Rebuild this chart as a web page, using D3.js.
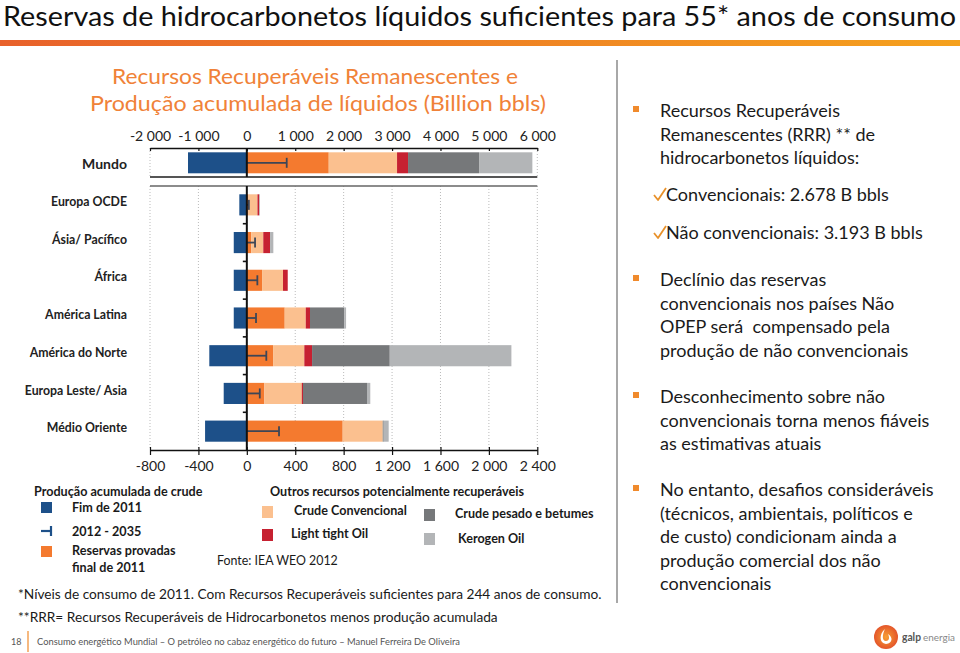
<!DOCTYPE html>
<html><head><meta charset="utf-8">
<script src="https://cdn.jsdelivr.net/npm/d3@7"></script>
<style>
html,body{margin:0;padding:0;background:#fff;}
svg text{font-family:Lato,"Open Sans",sans-serif;}
</style></head>
<body><svg id="c" width="960" height="653"></svg>
<script>
// ---------- DATA ----------
const regions = ["Europa OCDE","Ásia/ Pacífico","África","América Latina","América do Norte","Europa Leste/ Asia","Médio Oriente"];
const prodFim2011 = [-62,-108,-108,-108,-310,-191,-345];
const prod2012_2035 = [17,68,87,76,161,107,266];
const reservasProvadas = [10,37,126,313,217,145,792];
const crudeConvencional = [78,99,173,174,258,309,331];
const lightTightOil = [14,56,39,35,64,10,0];
const crudePesado = [3,0,0,284,642,529,8];
const kerogenOil = [0,27,0,14,1005,27,41];

const world = ["Mundo"];
const worldFim2011 = [-1215];
const world2012_2035 = [824];
const worldReservas = [1692];
const worldCrudeConv = [1411];
const worldLTO = [227];
const worldPesado = [1467];
const worldKerogen = [1101];

const topTicks = [-2000,-1000,0,1000,2000,3000,4000,5000,6000];
const botTicks = [-800,-400,0,400,800,1200,1600,2000,2400];

const colors = {fim:"#1d5089", reservas:"#f47a2f", conv:"#fbc08f", lto:"#c62131", pesado:"#76787a", kerogen:"#b3b5b7", err:"#3e4656"};
const seriesColors = [colors.reservas, colors.conv, colors.lto, colors.pesado, colors.kerogen];

const fmt = d => d3.format(",")(d).replace(/,/g," ").replace("−","-");

// ---------- SVG ----------
const svg = d3.select("#c");
const defs = svg.append("defs");

// Title
svg.append("text").attr("x",3).attr("y",26).attr("font-size",27)
  .attr("textLength",953).attr("lengthAdjust","spacingAndGlyphs").attr("fill","#111")
  .text("Reservas de hidrocarbonetos líquidos suficientes para 55* anos de consumo");
const grad = defs.append("linearGradient").attr("id","tg");
grad.append("stop").attr("offset","0").attr("stop-color","#e8612b");
grad.append("stop").attr("offset","1").attr("stop-color","#f5a11d");
svg.append("rect").attr("x",0).attr("y",40).attr("width",960).attr("height",6).attr("fill","url(#tg)");

// Chart subtitle
svg.append("text").attr("x",315).attr("y",84).attr("text-anchor","middle").attr("font-size",22)
  .attr("fill","#f08238").attr("textLength",406).attr("lengthAdjust","spacingAndGlyphs")
  .text("Recursos Recuperáveis Remanescentes e");
svg.append("text").attr("x",318).attr("y",111).attr("text-anchor","middle").attr("font-size",22)
  .attr("fill","#f08238").attr("textLength",456).attr("lengthAdjust","spacingAndGlyphs")
  .text("Produção acumulada de líquidos (Billion bbls)");

// Scales
const xL = 150, xR = 537.3;
const xTop = d3.scaleLinear().domain([-2000,6000]).range([xL,xR]);
const xBot = d3.scaleLinear().domain([-800,2400]).range([xL,xR]);
const yTop = d3.scaleBand().domain(world).range([148,177.6]).paddingInner(0).paddingOuter(0.205);
const yBot = d3.scaleBand().domain(regions).range([186,450]).paddingInner(0.44).paddingOuter(0.22);

// Top panel gridlines (edges) dotted
[ -2000, 6000 ].forEach(v=>{
  svg.append("line").attr("x1",xTop(v)).attr("x2",xTop(v)).attr("y1",148).attr("y2",177)
    .attr("stroke","#bbb").attr("stroke-dasharray","1,2");
});
// Bottom panel gridlines
svg.append("g").selectAll("line").data(botTicks).join("line")
  .attr("x1",d=>xBot(d)).attr("x2",d=>xBot(d)).attr("y1",186).attr("y2",450)
  .attr("stroke","#bbb").attr("stroke-dasharray","1,2");

// Top axis
const gTop = svg.append("g").attr("transform","translate(0,148)")
  .call(d3.axisTop(xTop).tickValues(topTicks).tickFormat(fmt).tickSizeInner(-3).tickSizeOuter(0));
gTop.select(".domain").attr("stroke","#111").attr("stroke-width",1.6);
gTop.selectAll(".tick line").attr("stroke","#111").attr("stroke-width",1.2);
gTop.selectAll(".tick text").attr("font-size",14).attr("fill","#222").attr("font-family","Lato").attr("y",-7);

// Panel separator lines
svg.append("line").attr("x1",xL).attr("x2",xR).attr("y1",177).attr("y2",177).attr("stroke","#555").attr("stroke-width",1.8);
svg.append("line").attr("x1",xL).attr("x2",xR).attr("y1",186).attr("y2",186).attr("stroke","#666").attr("stroke-width",1.4);

// Bottom axis
const gBot = svg.append("g").attr("transform","translate(0,450)")
  .call(d3.axisBottom(xBot).tickValues(botTicks).tickFormat(fmt).tickSizeInner(5).tickSizeOuter(0));
gBot.select(".domain").attr("stroke","#111").attr("stroke-width",1.6);
gBot.selectAll(".tick line").attr("stroke","#111").attr("stroke-width",1.2).attr("y1",-3);
gBot.selectAll(".tick text").attr("font-size",14).attr("fill","#222").attr("font-family","Lato").attr("y",11);

// Stacked bars helper
function drawBars(x, y, cats, fim, err, stacks){
  const g = svg.append("g");
  g.selectAll("rect.fim").data(cats).join("rect").attr("class","fim")
    .attr("x",(d,i)=>x(fim[i])).attr("width",(d,i)=>x(0)-x(fim[i]))
    .attr("y",d=>y(d)).attr("height",y.bandwidth()).attr("fill",colors.fim);
  cats.forEach((c,i)=>{
    let cum = 0;
    stacks.forEach((s,k)=>{
      const v = s[i];
      if(v>0){
        g.append("rect").attr("x",x(cum)).attr("width",x(cum+v)-x(cum))
          .attr("y",y(c)).attr("height",y.bandwidth()).attr("fill",seriesColors[k]);
      }
      cum += v;
    });
  });
  cats.forEach((c,i)=>{
    const cy = y(c)+y.bandwidth()/2;
    g.append("line").attr("x1",x(0)).attr("x2",x(err[i])).attr("y1",cy).attr("y2",cy)
      .attr("stroke",colors.err).attr("stroke-width",1.8);
    g.append("line").attr("x1",x(err[i])).attr("x2",x(err[i])).attr("y1",cy-5).attr("y2",cy+5)
      .attr("stroke",colors.err).attr("stroke-width",1.8);
  });
}
drawBars(xTop, yTop, world, worldFim2011, world2012_2035, [worldReservas, worldCrudeConv, worldLTO, worldPesado, worldKerogen]);
drawBars(xBot, yBot, regions, prodFim2011, prod2012_2035, [reservasProvadas, crudeConvencional, lightTightOil, crudePesado, kerogenOil]);

// zero line (category axis)
svg.append("line").attr("x1",xTop(0)).attr("x2",xTop(0)).attr("y1",148).attr("y2",177).attr("stroke","#111").attr("stroke-width",2);
svg.append("line").attr("x1",xBot(0)).attr("x2",xBot(0)).attr("y1",186).attr("y2",450).attr("stroke","#111").attr("stroke-width",2);
const bounds = regions.slice(1).map(r=>yBot(r) - (yBot.step()-yBot.bandwidth())/2);
svg.append("g").selectAll("line").data(bounds).join("line")
  .attr("x1",xBot(0)-4).attr("x2",xBot(0)).attr("y1",d=>d).attr("y2",d=>d)
  .attr("stroke","#111").attr("stroke-width",1.6);

// Category labels
svg.append("text").attr("x",127).attr("y",yTop("Mundo")+yTop.bandwidth()/2+3).attr("text-anchor","end")
  .attr("dominant-baseline","middle").attr("font-size",14).attr("font-weight","bold").attr("fill","#222").text("Mundo");
svg.append("g").selectAll("text").data(regions).join("text")
  .attr("x",127).attr("y",d=>yBot(d)+yBot.bandwidth()/2-2).attr("text-anchor","end")
  .attr("dominant-baseline","middle").attr("font-size",12.3).attr("font-weight","bold").attr("fill","#222").text(d=>d);

// Legend
const lg = svg.append("g");
function lt(x,y,t,opts={}){
  return lg.append("text").attr("x",x).attr("y",y).attr("font-size",opts.size||12.6)
    .attr("font-weight",opts.bold===false?"normal":"bold").attr("fill","#1a1a1a").text(t);
}
lt(34,496,"Produção acumulada de crude");
lg.append("rect").attr("x",41).attr("y",502).attr("width",11).attr("height",11).attr("fill",colors.fim);
lt(72,512,"Fim de 2011");
lg.append("line").attr("x1",41).attr("x2",51).attr("y1",531).attr("y2",531).attr("stroke",colors.fim).attr("stroke-width",2.2);
lg.append("line").attr("x1",51).attr("x2",51).attr("y1",526).attr("y2",536).attr("stroke",colors.fim).attr("stroke-width",2.2);
lt(72,536,"2012 - 2035");
lg.append("rect").attr("x",41).attr("y",546).attr("width",11).attr("height",11).attr("fill",colors.reservas);
lt(72,555,"Reservas provadas");
lt(72,572,"final de 2011");
lt(270,496,"Outros recursos potencialmente recuperáveis");
lg.append("rect").attr("x",262).attr("y",506).attr("width",11).attr("height",12).attr("fill",colors.conv);
lt(294,515,"Crude Convencional");
lg.append("rect").attr("x",262).attr("y",529).attr("width",11).attr("height",12).attr("fill",colors.lto);
lt(291,538,"Light tight Oil");
lg.append("rect").attr("x",424).attr("y",509).attr("width",11).attr("height",12).attr("fill",colors.pesado);
lt(455,518,"Crude pesado e betumes");
lg.append("rect").attr("x",424).attr("y",533).attr("width",11).attr("height",12).attr("fill",colors.kerogen);
lt(458,543,"Kerogen Oil");
lt(217,565,"Fonte: IEA WEO 2012",{bold:false,size:12.4});

// footnotes
svg.append("text").attr("x",18).attr("y",599).attr("font-size",13.7).attr("fill","#1a1a1a")
  .text("*Níveis de consumo de 2011. Com Recursos Recuperáveis  suficientes para 244 anos de consumo.");
svg.append("text").attr("x",18).attr("y",622).attr("font-size",13.7).attr("fill","#1a1a1a")
  .text("**RRR= Recursos Recuperáveis de Hidrocarbonetos menos produção acumulada");

// Separator
svg.append("line").attr("x1",617).attr("x2",617).attr("y1",60).attr("y2",603).attr("stroke","#a8a8a8").attr("stroke-width",2);

// Right text
const bullets = [
  {y:117, lines:["Recursos Recuperáveis","Remanescentes (RRR) ** de","hidrocarbonetos líquidos:"]},
  {y:286, lines:["Declínio das reservas","convencionais nos países Não","OPEP será  compensado pela","produção de não convencionais"]},
  {y:403, lines:["Desconhecimento sobre não","convencionais torna menos fiáveis","as estimativas atuais"]},
  {y:496, lines:["No entanto, desafios consideráveis","(técnicos, ambientais, políticos e","de custo) condicionam ainda a","produção comercial dos não","convencionais"]}
];
const rt = svg.append("g");
bullets.forEach(b=>{
  rt.append("rect").attr("x",633).attr("y",b.y-11).attr("width",6).attr("height",6).attr("fill","#f08a2c");
  b.lines.forEach((l,i)=>{
    rt.append("text").attr("x",660).attr("y",b.y+i*23.6).attr("font-size",18).attr("fill","#1a1a1a").style("white-space","pre").text(l);
  });
});
const checks = [{y:201,t:"Convencionais: 2.678 B bbls"},{y:239,t:"Não convencionais: 3.193 B bbls"}];
checks.forEach(c=>{
  rt.append("path").attr("d",`M654,${c.y-6} L658,${c.y-1} L666,${c.y-13}`).attr("fill","none")
    .attr("stroke","#e8912a").attr("stroke-width",1.8).attr("stroke-linejoin","round");
  rt.append("text").attr("x",666).attr("y",c.y).attr("font-size",18).attr("fill","#1a1a1a").text(c.t);
});

// Footer
svg.append("text").attr("x",11).attr("y",645).attr("font-size",9).attr("fill","#555").text("18");
svg.append("line").attr("x1",28).attr("x2",28).attr("y1",631).attr("y2",652).attr("stroke","#f08a2c").attr("stroke-width",1.2);
svg.append("text").attr("x",37).attr("y",645).attr("font-size",8.6).attr("fill","#555")
  .attr("textLength",423).attr("lengthAdjust","spacingAndGlyphs")
  .text("Consumo energético Mundial – O petróleo no cabaz energético do futuro – Manuel Ferreira De Oliveira");
// Galp logo
const lgG = svg.append("g").attr("transform","translate(886,637)");
const rg = defs.append("radialGradient").attr("id","lgrad");
rg.append("stop").attr("offset","0").attr("stop-color","#f7a035");
rg.append("stop").attr("offset","1").attr("stop-color","#e4562a");
lgG.append("circle").attr("r",12).attr("fill","url(#lgrad)");
lgG.append("path").attr("d","M-1,-8 C-7,-3 -7,6 0,7 C7,6 7,0 2,-3 C4,1 3,4 0,4 C-4,4 -4,-2 -1,-8 Z").attr("fill","#fff");
svg.append("text").attr("x",902).attr("y",641).attr("font-size",10.5).attr("font-weight","bold").attr("fill","#555")
  .attr("textLength",19).attr("lengthAdjust","spacingAndGlyphs").text("galp");
svg.append("text").attr("x",923).attr("y",641).attr("font-size",10).attr("fill","#888")
  .attr("textLength",32).attr("lengthAdjust","spacingAndGlyphs").text("energia");
</script></body></html>
